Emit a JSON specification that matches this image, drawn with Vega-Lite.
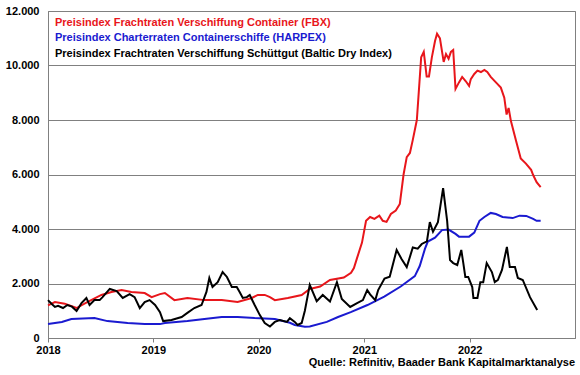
{
  "$schema": "https://vega.github.io/schema/vega-lite/v6.json",
  "autosize": {"type": "none"},
  "width": 527,
  "height": 327,
  "padding": {"left": 48, "top": 11, "right": 5, "bottom": 37},
  "background": "white",
  "config": {
    "font": "Liberation Sans",
    "view": {"stroke": "#808080", "strokeWidth": 1},
    "axis": {"labelFont": "Liberation Sans", "labelFontWeight": "bold", "labelFontSize": 11, "labelColor": "#000000", "domainColor": "#808080", "tickColor": "#808080", "title": null}
  },
  "title": {"text": "Quelle: Refinitiv, Baader Bank Kapitalmarktanalyse", "orient": "bottom", "anchor": "end", "fontSize": 11, "fontWeight": "bold", "font": "Liberation Sans", "color": "#000000", "offset": 2},
  "data": {"values": [
    {"s": "FBX", "d": "2018-01-01", "v": 1200},
    {"s": "FBX", "d": "2018-01-25", "v": 1320},
    {"s": "FBX", "d": "2018-02-28", "v": 1260},
    {"s": "FBX", "d": "2018-04-10", "v": 1100},
    {"s": "FBX", "d": "2018-05-17", "v": 1320},
    {"s": "FBX", "d": "2018-07-05", "v": 1580},
    {"s": "FBX", "d": "2018-08-09", "v": 1690},
    {"s": "FBX", "d": "2018-09-13", "v": 1760},
    {"s": "FBX", "d": "2018-10-17", "v": 1690},
    {"s": "FBX", "d": "2018-12-02", "v": 1650},
    {"s": "FBX", "d": "2018-12-26", "v": 1500},
    {"s": "FBX", "d": "2019-01-24", "v": 1610},
    {"s": "FBX", "d": "2019-02-10", "v": 1650},
    {"s": "FBX", "d": "2019-03-15", "v": 1390},
    {"s": "FBX", "d": "2019-04-29", "v": 1470},
    {"s": "FBX", "d": "2019-06-27", "v": 1390},
    {"s": "FBX", "d": "2019-08-26", "v": 1390},
    {"s": "FBX", "d": "2019-10-20", "v": 1320},
    {"s": "FBX", "d": "2019-12-08", "v": 1470},
    {"s": "FBX", "d": "2019-12-29", "v": 1580},
    {"s": "FBX", "d": "2020-01-22", "v": 1580},
    {"s": "FBX", "d": "2020-02-09", "v": 1500},
    {"s": "FBX", "d": "2020-02-26", "v": 1390},
    {"s": "FBX", "d": "2020-04-11", "v": 1470},
    {"s": "FBX", "d": "2020-05-29", "v": 1580},
    {"s": "FBX", "d": "2020-06-26", "v": 1800},
    {"s": "FBX", "d": "2020-08-01", "v": 1890},
    {"s": "FBX", "d": "2020-09-04", "v": 2130},
    {"s": "FBX", "d": "2020-10-22", "v": 2220},
    {"s": "FBX", "d": "2020-11-16", "v": 2390},
    {"s": "FBX", "d": "2020-11-26", "v": 2570},
    {"s": "FBX", "d": "2020-12-07", "v": 2940},
    {"s": "FBX", "d": "2020-12-24", "v": 3500},
    {"s": "FBX", "d": "2021-01-07", "v": 4300},
    {"s": "FBX", "d": "2021-01-21", "v": 4440},
    {"s": "FBX", "d": "2021-02-05", "v": 4370},
    {"s": "FBX", "d": "2021-02-22", "v": 4490},
    {"s": "FBX", "d": "2021-03-06", "v": 4300},
    {"s": "FBX", "d": "2021-03-19", "v": 4260},
    {"s": "FBX", "d": "2021-04-03", "v": 4550},
    {"s": "FBX", "d": "2021-04-20", "v": 4680},
    {"s": "FBX", "d": "2021-05-04", "v": 4920},
    {"s": "FBX", "d": "2021-05-17", "v": 6000},
    {"s": "FBX", "d": "2021-05-28", "v": 6640},
    {"s": "FBX", "d": "2021-06-08", "v": 6790},
    {"s": "FBX", "d": "2021-06-18", "v": 7270},
    {"s": "FBX", "d": "2021-07-02", "v": 8000},
    {"s": "FBX", "d": "2021-07-17", "v": 10300},
    {"s": "FBX", "d": "2021-07-26", "v": 10500},
    {"s": "FBX", "d": "2021-08-05", "v": 9600},
    {"s": "FBX", "d": "2021-08-13", "v": 9600},
    {"s": "FBX", "d": "2021-08-23", "v": 10300},
    {"s": "FBX", "d": "2021-09-03", "v": 10900},
    {"s": "FBX", "d": "2021-09-10", "v": 11170},
    {"s": "FBX", "d": "2021-09-20", "v": 11000},
    {"s": "FBX", "d": "2021-10-03", "v": 10130},
    {"s": "FBX", "d": "2021-10-11", "v": 10420},
    {"s": "FBX", "d": "2021-10-20", "v": 10250},
    {"s": "FBX", "d": "2021-10-28", "v": 10500},
    {"s": "FBX", "d": "2021-11-05", "v": 10570},
    {"s": "FBX", "d": "2021-11-13", "v": 9140},
    {"s": "FBX", "d": "2021-11-25", "v": 9380},
    {"s": "FBX", "d": "2021-12-06", "v": 9580},
    {"s": "FBX", "d": "2021-12-18", "v": 9430},
    {"s": "FBX", "d": "2021-12-30", "v": 9250},
    {"s": "FBX", "d": "2022-01-05", "v": 9500},
    {"s": "FBX", "d": "2022-01-17", "v": 9690},
    {"s": "FBX", "d": "2022-01-28", "v": 9810},
    {"s": "FBX", "d": "2022-02-09", "v": 9760},
    {"s": "FBX", "d": "2022-02-21", "v": 9840},
    {"s": "FBX", "d": "2022-03-03", "v": 9760},
    {"s": "FBX", "d": "2022-03-15", "v": 9580},
    {"s": "FBX", "d": "2022-04-02", "v": 9380},
    {"s": "FBX", "d": "2022-04-19", "v": 9190},
    {"s": "FBX", "d": "2022-05-01", "v": 8820},
    {"s": "FBX", "d": "2022-05-09", "v": 8200},
    {"s": "FBX", "d": "2022-05-16", "v": 8440},
    {"s": "FBX", "d": "2022-05-24", "v": 7960},
    {"s": "FBX", "d": "2022-06-10", "v": 7270},
    {"s": "FBX", "d": "2022-06-27", "v": 6590},
    {"s": "FBX", "d": "2022-07-15", "v": 6400},
    {"s": "FBX", "d": "2022-08-02", "v": 6170},
    {"s": "FBX", "d": "2022-08-09", "v": 5980},
    {"s": "FBX", "d": "2022-08-21", "v": 5720},
    {"s": "FBX", "d": "2022-09-04", "v": 5540},

    {"s": "HARPEX", "d": "2018-01-01", "v": 510},
    {"s": "HARPEX", "d": "2018-02-18", "v": 590},
    {"s": "HARPEX", "d": "2018-03-23", "v": 700},
    {"s": "HARPEX", "d": "2018-06-11", "v": 730},
    {"s": "HARPEX", "d": "2018-07-26", "v": 620},
    {"s": "HARPEX", "d": "2018-10-04", "v": 550},
    {"s": "HARPEX", "d": "2018-12-02", "v": 510},
    {"s": "HARPEX", "d": "2019-01-24", "v": 510},
    {"s": "HARPEX", "d": "2019-02-10", "v": 550},
    {"s": "HARPEX", "d": "2019-04-29", "v": 620},
    {"s": "HARPEX", "d": "2019-06-27", "v": 700},
    {"s": "HARPEX", "d": "2019-08-26", "v": 770},
    {"s": "HARPEX", "d": "2019-10-20", "v": 770},
    {"s": "HARPEX", "d": "2019-12-18", "v": 730},
    {"s": "HARPEX", "d": "2020-02-26", "v": 700},
    {"s": "HARPEX", "d": "2020-04-18", "v": 560},
    {"s": "HARPEX", "d": "2020-05-05", "v": 480},
    {"s": "HARPEX", "d": "2020-06-09", "v": 410},
    {"s": "HARPEX", "d": "2020-06-26", "v": 420},
    {"s": "HARPEX", "d": "2020-08-24", "v": 590},
    {"s": "HARPEX", "d": "2020-10-02", "v": 770},
    {"s": "HARPEX", "d": "2020-11-15", "v": 950},
    {"s": "HARPEX", "d": "2021-01-12", "v": 1210},
    {"s": "HARPEX", "d": "2021-03-11", "v": 1520},
    {"s": "HARPEX", "d": "2021-05-07", "v": 1890},
    {"s": "HARPEX", "d": "2021-06-25", "v": 2270},
    {"s": "HARPEX", "d": "2021-07-12", "v": 2640},
    {"s": "HARPEX", "d": "2021-07-30", "v": 3270},
    {"s": "HARPEX", "d": "2021-08-09", "v": 3540},
    {"s": "HARPEX", "d": "2021-09-03", "v": 3680},
    {"s": "HARPEX", "d": "2021-09-27", "v": 3960},
    {"s": "HARPEX", "d": "2021-10-20", "v": 3980},
    {"s": "HARPEX", "d": "2021-11-13", "v": 3820},
    {"s": "HARPEX", "d": "2021-11-25", "v": 3720},
    {"s": "HARPEX", "d": "2021-12-30", "v": 3720},
    {"s": "HARPEX", "d": "2022-01-17", "v": 3870},
    {"s": "HARPEX", "d": "2022-02-04", "v": 4300},
    {"s": "HARPEX", "d": "2022-02-21", "v": 4440},
    {"s": "HARPEX", "d": "2022-03-15", "v": 4590},
    {"s": "HARPEX", "d": "2022-04-02", "v": 4550},
    {"s": "HARPEX", "d": "2022-04-25", "v": 4440},
    {"s": "HARPEX", "d": "2022-05-30", "v": 4400},
    {"s": "HARPEX", "d": "2022-06-23", "v": 4490},
    {"s": "HARPEX", "d": "2022-07-16", "v": 4480},
    {"s": "HARPEX", "d": "2022-08-09", "v": 4370},
    {"s": "HARPEX", "d": "2022-08-21", "v": 4300},
    {"s": "HARPEX", "d": "2022-09-04", "v": 4300},

    {"s": "BDI", "d": "2018-01-01", "v": 1390},
    {"s": "BDI", "d": "2018-01-14", "v": 1250},
    {"s": "BDI", "d": "2018-01-25", "v": 1140},
    {"s": "BDI", "d": "2018-02-05", "v": 1180},
    {"s": "BDI", "d": "2018-02-22", "v": 1100},
    {"s": "BDI", "d": "2018-03-09", "v": 1210},
    {"s": "BDI", "d": "2018-03-25", "v": 1150},
    {"s": "BDI", "d": "2018-04-10", "v": 990},
    {"s": "BDI", "d": "2018-04-27", "v": 1280},
    {"s": "BDI", "d": "2018-05-14", "v": 1470},
    {"s": "BDI", "d": "2018-05-25", "v": 1210},
    {"s": "BDI", "d": "2018-06-11", "v": 1390},
    {"s": "BDI", "d": "2018-06-29", "v": 1390},
    {"s": "BDI", "d": "2018-07-09", "v": 1500},
    {"s": "BDI", "d": "2018-08-03", "v": 1800},
    {"s": "BDI", "d": "2018-08-27", "v": 1720},
    {"s": "BDI", "d": "2018-09-17", "v": 1470},
    {"s": "BDI", "d": "2018-10-11", "v": 1610},
    {"s": "BDI", "d": "2018-10-28", "v": 1500},
    {"s": "BDI", "d": "2018-11-15", "v": 1100},
    {"s": "BDI", "d": "2018-12-02", "v": 1320},
    {"s": "BDI", "d": "2018-12-19", "v": 1390},
    {"s": "BDI", "d": "2019-01-07", "v": 1210},
    {"s": "BDI", "d": "2019-01-24", "v": 950},
    {"s": "BDI", "d": "2019-02-04", "v": 620},
    {"s": "BDI", "d": "2019-03-05", "v": 660},
    {"s": "BDI", "d": "2019-04-09", "v": 770},
    {"s": "BDI", "d": "2019-04-29", "v": 920},
    {"s": "BDI", "d": "2019-05-23", "v": 1100},
    {"s": "BDI", "d": "2019-06-17", "v": 1210},
    {"s": "BDI", "d": "2019-07-04", "v": 1690},
    {"s": "BDI", "d": "2019-07-14", "v": 2200},
    {"s": "BDI", "d": "2019-07-25", "v": 1870},
    {"s": "BDI", "d": "2019-08-12", "v": 2050},
    {"s": "BDI", "d": "2019-08-29", "v": 2420},
    {"s": "BDI", "d": "2019-09-13", "v": 2240},
    {"s": "BDI", "d": "2019-09-30", "v": 1870},
    {"s": "BDI", "d": "2019-10-17", "v": 1870},
    {"s": "BDI", "d": "2019-10-27", "v": 1690},
    {"s": "BDI", "d": "2019-11-07", "v": 1470},
    {"s": "BDI", "d": "2019-11-21", "v": 1500},
    {"s": "BDI", "d": "2019-12-01", "v": 1580},
    {"s": "BDI", "d": "2019-12-18", "v": 1210},
    {"s": "BDI", "d": "2020-01-05", "v": 840},
    {"s": "BDI", "d": "2020-01-22", "v": 550},
    {"s": "BDI", "d": "2020-02-09", "v": 420},
    {"s": "BDI", "d": "2020-02-26", "v": 590},
    {"s": "BDI", "d": "2020-03-14", "v": 660},
    {"s": "BDI", "d": "2020-04-08", "v": 590},
    {"s": "BDI", "d": "2020-04-18", "v": 730},
    {"s": "BDI", "d": "2020-05-05", "v": 590},
    {"s": "BDI", "d": "2020-05-15", "v": 480},
    {"s": "BDI", "d": "2020-05-29", "v": 550},
    {"s": "BDI", "d": "2020-06-09", "v": 1000},
    {"s": "BDI", "d": "2020-06-26", "v": 1950},
    {"s": "BDI", "d": "2020-07-20", "v": 1350},
    {"s": "BDI", "d": "2020-08-10", "v": 1580},
    {"s": "BDI", "d": "2020-09-04", "v": 1340},
    {"s": "BDI", "d": "2020-09-28", "v": 2050},
    {"s": "BDI", "d": "2020-10-15", "v": 1430},
    {"s": "BDI", "d": "2020-11-13", "v": 1140},
    {"s": "BDI", "d": "2020-12-07", "v": 1280},
    {"s": "BDI", "d": "2020-12-27", "v": 1390},
    {"s": "BDI", "d": "2021-01-11", "v": 1760},
    {"s": "BDI", "d": "2021-01-21", "v": 1600},
    {"s": "BDI", "d": "2021-02-08", "v": 1390},
    {"s": "BDI", "d": "2021-02-18", "v": 1760},
    {"s": "BDI", "d": "2021-03-12", "v": 2180},
    {"s": "BDI", "d": "2021-03-30", "v": 2250},
    {"s": "BDI", "d": "2021-04-23", "v": 3230},
    {"s": "BDI", "d": "2021-05-10", "v": 2900},
    {"s": "BDI", "d": "2021-05-28", "v": 2600},
    {"s": "BDI", "d": "2021-06-18", "v": 3320},
    {"s": "BDI", "d": "2021-07-05", "v": 3280},
    {"s": "BDI", "d": "2021-07-19", "v": 3450},
    {"s": "BDI", "d": "2021-08-06", "v": 3550},
    {"s": "BDI", "d": "2021-08-16", "v": 4250},
    {"s": "BDI", "d": "2021-08-27", "v": 3900},
    {"s": "BDI", "d": "2021-09-13", "v": 4250},
    {"s": "BDI", "d": "2021-10-01", "v": 5500},
    {"s": "BDI", "d": "2021-10-15", "v": 4300},
    {"s": "BDI", "d": "2021-10-25", "v": 2860},
    {"s": "BDI", "d": "2021-11-05", "v": 2750},
    {"s": "BDI", "d": "2021-11-19", "v": 2680},
    {"s": "BDI", "d": "2021-12-03", "v": 3230},
    {"s": "BDI", "d": "2021-12-10", "v": 2750},
    {"s": "BDI", "d": "2021-12-17", "v": 2240},
    {"s": "BDI", "d": "2021-12-27", "v": 2240},
    {"s": "BDI", "d": "2022-01-10", "v": 1870},
    {"s": "BDI", "d": "2022-01-14", "v": 1470},
    {"s": "BDI", "d": "2022-01-28", "v": 1470},
    {"s": "BDI", "d": "2022-02-07", "v": 2050},
    {"s": "BDI", "d": "2022-02-17", "v": 2050},
    {"s": "BDI", "d": "2022-03-01", "v": 2750},
    {"s": "BDI", "d": "2022-03-19", "v": 2420},
    {"s": "BDI", "d": "2022-03-29", "v": 2050},
    {"s": "BDI", "d": "2022-04-09", "v": 2130},
    {"s": "BDI", "d": "2022-04-23", "v": 2500},
    {"s": "BDI", "d": "2022-05-10", "v": 3340},
    {"s": "BDI", "d": "2022-05-20", "v": 2610},
    {"s": "BDI", "d": "2022-06-07", "v": 2610},
    {"s": "BDI", "d": "2022-06-17", "v": 2200},
    {"s": "BDI", "d": "2022-07-04", "v": 2130},
    {"s": "BDI", "d": "2022-07-29", "v": 1500},
    {"s": "BDI", "d": "2022-08-23", "v": 1030}
  ]},
  "mark": {"type": "line", "strokeWidth": 2, "interpolate": "linear"},
  "encoding": {
    "x": {"field": "d", "type": "temporal",
      "scale": {"domain": ["2018-01-01", "2023-01-01"]},
      "axis": {"values": ["2018-01-01", "2019-01-01", "2020-01-01", "2021-01-01", "2022-01-01"], "format": "%Y", "grid": false, "tickSize": 4, "labelPadding": 2, "labelFlush": false, "labelOverlap": false}},
    "y": {"field": "v", "type": "quantitative",
      "scale": {"domain": [0, 12000], "nice": false},
      "axis": {"values": [0, 2000, 4000, 6000, 8000, 10000, 12000], "grid": true, "gridColor": "#808080", "gridWidth": 1, "tickSize": 0, "labelPadding": 9, "labelExpr": "replace(format(datum.value, ','), ',', '.')"}},
    "color": {"field": "s", "type": "nominal",
      "scale": {"domain": ["FBX", "HARPEX", "BDI"], "range": ["#e8161b", "#1a1ad0", "#000000"]},
      "legend": {"title": null, "orient": "none", "legendX": -4, "legendY": 6, "padding": 0, "rowPadding": 3.5,
        "symbolOpacity": 0, "symbolSize": 0, "symbolStrokeWidth": 0, "labelOffset": 0,
        "labelFont": "Liberation Sans", "labelFontWeight": "bold", "labelFontSize": 11, "labelLimit": 0,
        "labelExpr": "datum.value == 'FBX' ? 'Preisindex Frachtraten Verschiffung Container (FBX)' : datum.value == 'HARPEX' ? 'Preisindex Charterraten Containerschiffe (HARPEX)' : 'Preisindex Frachtraten Verschiffung Schüttgut (Baltic Dry Index)'",
        "encode": {"labels": {"update": {"fill": {"scale": "color", "field": "value"}}}}}}
  }
}
